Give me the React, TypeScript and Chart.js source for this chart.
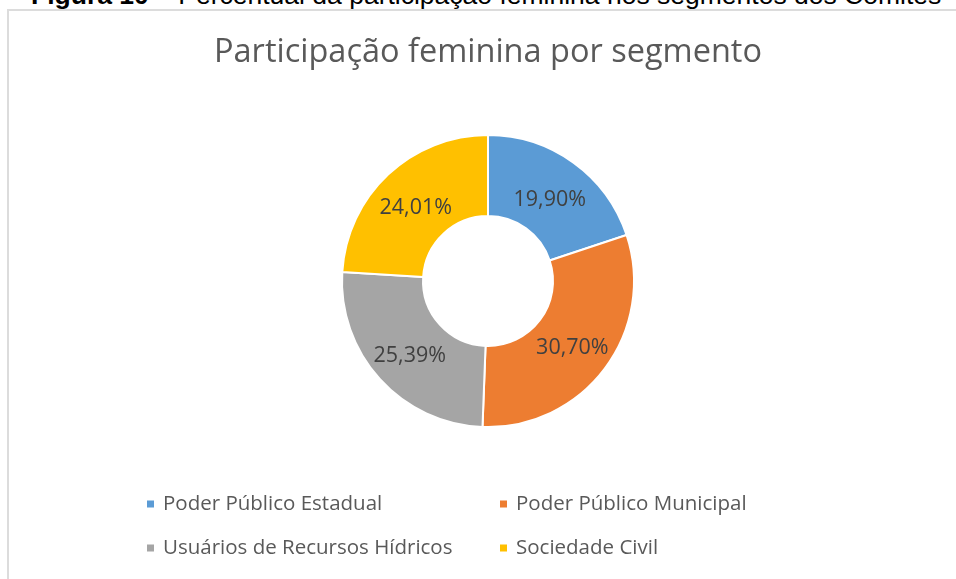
import React, { useEffect, useRef } from "react";
import { Chart, registerables } from "chart.js";

Chart.register(...registerables);

const caption = "Percentual da participação feminina nos segmentos dos Comitês";
const captionLead = "Figura 10 – ";
const title = "Participação feminina por segmento";
const categories = [
  "Poder Público Estadual",
  "Poder Público Municipal",
  "Usuários de Recursos Hídricos",
  "Sociedade Civil",
];
const values = [19.9, 30.7, 25.39, 24.01];
const colors = ["#5B9BD5", "#ED7D31", "#A5A5A5", "#FFC000"];

const FONT = "'Open Sans', 'Noto Sans', sans-serif";

const fmt = (v: number) => v.toFixed(2).replace(".", ",") + "%";

const labelPlugin = {
  id: "sliceLabels",
  afterDatasetsDraw(chart: any) {
    const ctx = chart.ctx;
    const meta = chart.getDatasetMeta(0);
    ctx.save();
    ctx.font = `21.5px ${FONT}`;
    ctx.fillStyle = "#404040";
    ctx.textAlign = "center";
    ctx.textBaseline = "middle";
    meta.data.forEach((arc: any, i: number) => {
      const p = arc.tooltipPosition();
      ctx.fillText(fmt(chart.data.datasets[0].data[i]), p.x, p.y + 4);
    });
    ctx.restore();
  },
};

const legendPlugin = {
  id: "gridLegend",
  afterDraw(chart: any) {
    const ctx = chart.ctx;
    const colX = [147, 500];
    const rowY = [504, 548];
    ctx.save();
    ctx.font = `20.5px ${FONT}`;
    ctx.textBaseline = "middle";
    ctx.textAlign = "left";
    chart.data.labels.forEach((lab: string, i: number) => {
      const x = colX[i % 2];
      const y = rowY[Math.floor(i / 2)];
      ctx.fillStyle = chart.data.datasets[0].backgroundColor[i];
      ctx.fillRect(x, y - 3.5, 7, 7);
      ctx.fillStyle = "#595959";
      ctx.fillText(lab, x + 16, y);
    });
    ctx.restore();
  },
};

export default function App() {
  const ref = useRef<HTMLCanvasElement>(null);
  useEffect(() => {
    if (!ref.current) return;
    const chart = new Chart(ref.current, {
      type: "doughnut",
      data: {
        labels: categories,
        datasets: [
          {
            data: values,
            backgroundColor: colors,
            borderColor: "#ffffff",
            borderWidth: 2,
          },
        ],
      },
      options: {
        animation: false,
        responsive: false,
        cutout: "44.5%",
        layout: { padding: { left: 20, right: 0, top: 0, bottom: 151 } },
        plugins: {
          legend: { display: false },
          tooltip: { enabled: false },
          title: {
            display: true,
            text: title,
            color: "#595959",
            font: { family: FONT, size: 32.5, weight: "normal" as any, lineHeight: 1.2 },
            padding: { top: 33, bottom: 62 },
          },
        },
      },
      plugins: [labelPlugin, legendPlugin],
    });
    return () => chart.destroy();
  }, []);

  return (
    <div
      style={{
        position: "fixed",
        left: 0,
        top: 0,
        width: 956,
        height: 579,
        overflow: "hidden",
        background: "#fff",
      }}
    >
      <div
        style={{
          position: "absolute",
          left: 31,
          top: -20,
          fontFamily: "'Liberation Sans', Arial, sans-serif",
          fontSize: 26.5,
          whiteSpace: "nowrap",
          color: "#000",
        }}
      >
        <b>{captionLead}</b>
        {caption}
      </div>
      <div
        style={{
          position: "absolute",
          left: 7,
          top: 9,
          width: 1000,
          height: 1000,
          borderLeft: "2px solid #dcdcdc",
          borderTop: "2px solid #dcdcdc",
        }}
      />
      <canvas
        ref={ref}
        width={956}
        height={579}
        style={{ position: "absolute", left: 0, top: 0 }}
      />
    </div>
  );
}
